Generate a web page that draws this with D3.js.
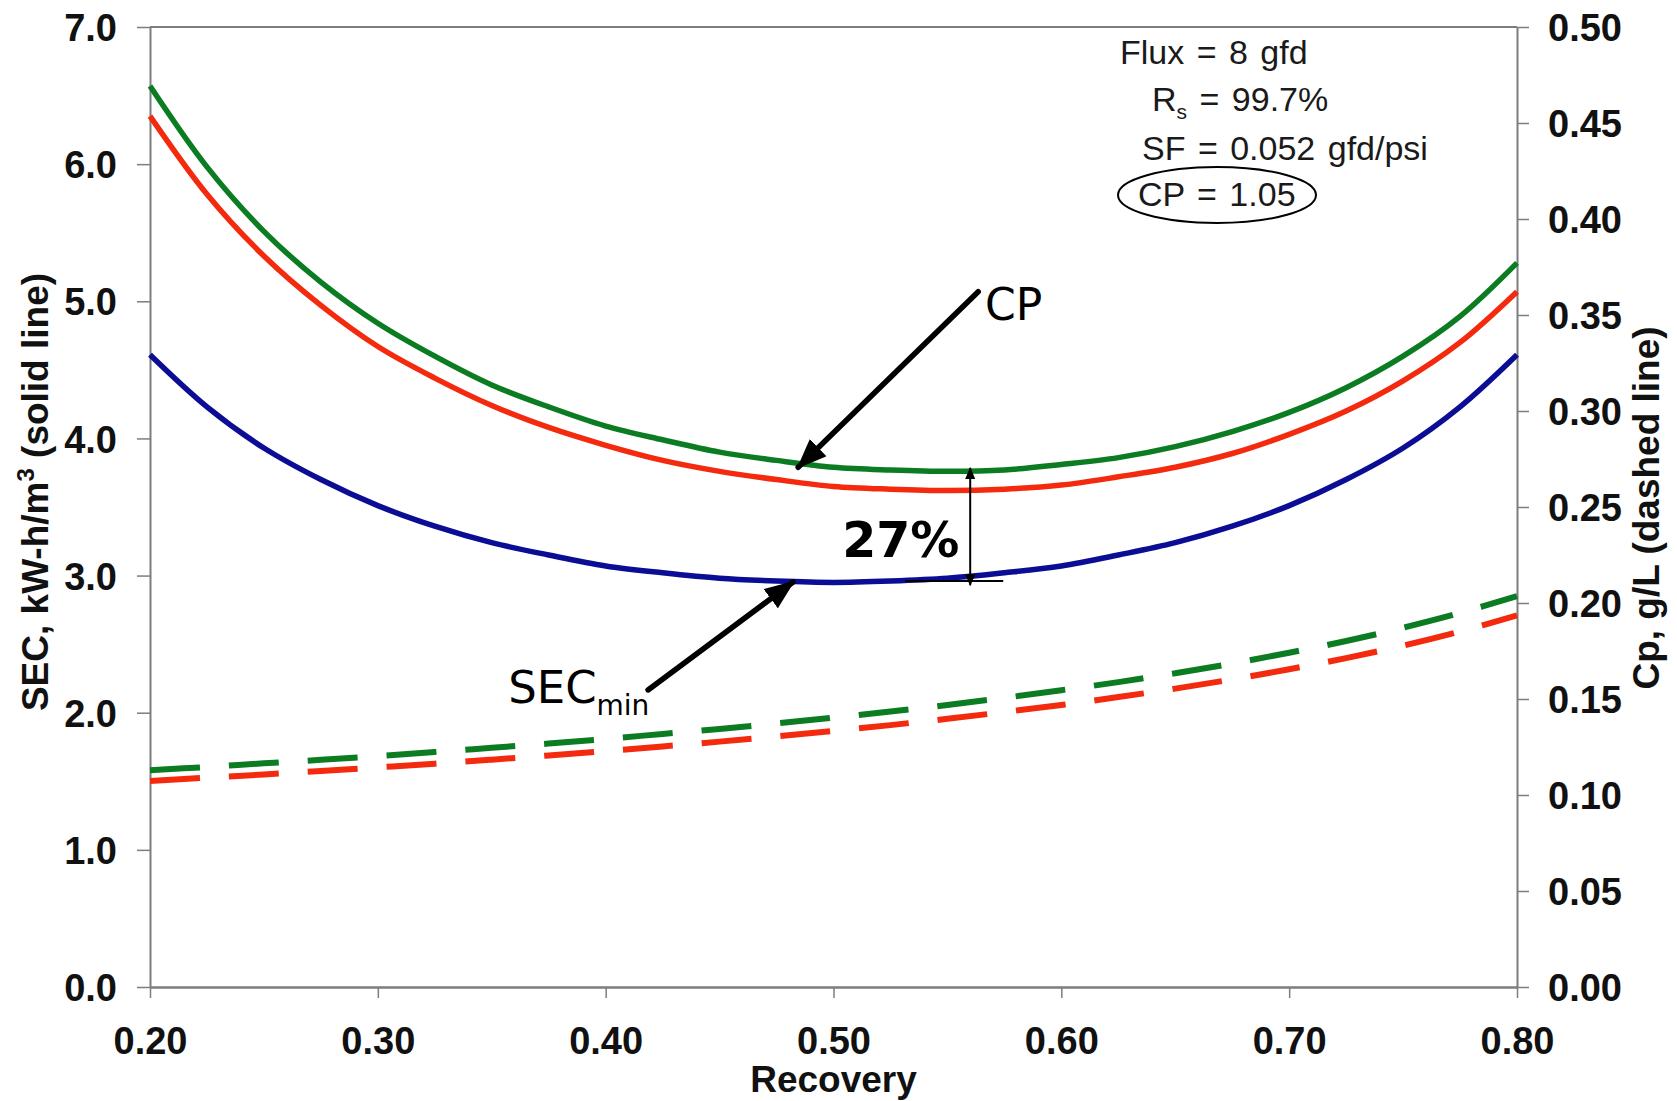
<!DOCTYPE html>
<html>
<head>
<meta charset="utf-8">
<script src="https://cdn.jsdelivr.net/npm/d3@7/dist/d3.min.js"></script>
<style>
  html, body { margin: 0; padding: 0; background: #fff; }
  svg { display: block; }
  .tick text { font-family: "Liberation Sans", Arial, sans-serif; font-weight: bold; font-size: 38px; fill: #111; }
</style>
</head>
<body>
<svg id="chart" width="1677" height="1101"></svg>
<script>
// Recovery (x) sample points
const recovery = [0.200, 0.225, 0.250, 0.275, 0.300, 0.325, 0.350, 0.375, 0.400, 0.425, 0.450, 0.475, 0.500,
                  0.525, 0.550, 0.575, 0.600, 0.625, 0.650, 0.675, 0.700, 0.725, 0.750, 0.775, 0.800];

// Specific energy consumption, kW-h/m3 (solid lines, left axis)
const secGreen = [6.57, 5.98, 5.51, 5.14, 4.84, 4.60, 4.39, 4.23, 4.09, 3.99, 3.90, 3.84, 3.79,
                  3.77, 3.76, 3.77, 3.81, 3.86, 3.94, 4.05, 4.19, 4.37, 4.60, 4.89, 5.28];
const secRed   = [6.35, 5.78, 5.33, 4.97, 4.67, 4.44, 4.24, 4.08, 3.95, 3.84, 3.76, 3.70, 3.65,
                  3.63, 3.62, 3.63, 3.66, 3.72, 3.79, 3.89, 4.03, 4.20, 4.42, 4.70, 5.07];
const secMin   = [4.61, 4.23, 3.93, 3.70, 3.51, 3.36, 3.24, 3.15, 3.07, 3.02, 2.98, 2.96, 2.95,
                  2.96, 2.98, 3.02, 3.07, 3.15, 3.24, 3.36, 3.51, 3.70, 3.93, 4.23, 4.61];

// Permeate concentration Cp, g/L (dashed lines, right axis)
const cpGreen = [0.1129, 0.1146, 0.1165, 0.1183, 0.1203, 0.1224, 0.1246, 0.1268, 0.1292, 0.1318, 0.1344, 0.1373, 0.1403,
                 0.1435, 0.1469, 0.1506, 0.1546, 0.1588, 0.1634, 0.1685, 0.1741, 0.1802, 0.1871, 0.1948, 0.2036];
const cpRed   = [0.1073, 0.1090, 0.1107, 0.1125, 0.1144, 0.1163, 0.1184, 0.1206, 0.1229, 0.1253, 0.1278, 0.1305, 0.1334,
                 0.1364, 0.1397, 0.1432, 0.1469, 0.1510, 0.1554, 0.1602, 0.1655, 0.1713, 0.1778, 0.1852, 0.1935];

// Tick values
const xTicks = [0.20, 0.30, 0.40, 0.50, 0.60, 0.70, 0.80];
const yLeftTicks = [0, 1, 2, 3, 4, 5, 6, 7];
const yRightTicks = [0, 0.05, 0.10, 0.15, 0.20, 0.25, 0.30, 0.35, 0.40, 0.45, 0.50];

// Operating conditions text block
const conditions = [
  { parts: [["Flux = 8 gfd", null]] },
  { parts: [["R", null], ["s", "sub"], [" = 99.7%", null]] },
  { parts: [["SF = 0.052 gfd/psi", null]] },
  { parts: [["CP = 1.05", null]] }
];

const COLORS = { green: "#0c7c22", red: "#f42a0e", blue: "#0b0d94" };
const AXIS_GRAY = "#7d7d7d";

const svg = d3.select("#chart");
const plot = { left: 150, right: 1517, top: 27, bottom: 987 };

const x = d3.scaleLinear().domain([0.2, 0.8]).range([plot.left, plot.right]);
const yL = d3.scaleLinear().domain([0, 7]).range([plot.bottom, plot.top]);
const yR = d3.scaleLinear().domain([0, 0.5]).range([plot.bottom, plot.top]);

// Top frame line
svg.append("line")
  .attr("x1", plot.left).attr("x2", plot.right)
  .attr("y1", plot.top).attr("y2", plot.top)
  .attr("stroke", AXIS_GRAY).attr("stroke-width", 2);

function styleAxis(g) {
  g.select(".domain").attr("stroke", AXIS_GRAY).attr("stroke-width", 2);
  g.selectAll(".tick line").attr("stroke", AXIS_GRAY).attr("stroke-width", 1.5);
}

// Left axis
svg.append("g")
  .attr("transform", `translate(${plot.left},0)`)
  .call(d3.axisLeft(yL).tickValues(yLeftTicks).tickFormat(d3.format(".1f"))
    .tickSize(13).tickSizeOuter(0).tickPadding(20))
  .call(styleAxis)
  .call(g => g.selectAll(".tick text").attr("dy", "0.36em"));

// Right axis
svg.append("g")
  .attr("transform", `translate(${plot.right},0)`)
  .call(d3.axisRight(yR).tickValues(yRightTicks).tickFormat(d3.format(".2f"))
    .tickSize(12).tickSizeOuter(0).tickPadding(19))
  .call(styleAxis)
  .call(g => g.selectAll(".tick text").attr("dy", "0.36em"));

// Bottom axis
svg.append("g")
  .attr("transform", `translate(0,${plot.bottom})`)
  .call(d3.axisBottom(x).tickValues(xTicks).tickFormat(d3.format(".2f"))
    .tickSize(11).tickSizeOuter(0))
  .call(styleAxis)
  .call(g => g.select(".domain").attr("stroke-width", 2.5))
  .call(g => g.selectAll(".tick text").attr("y", 67).attr("dy", 0));

// Axis titles
const titleFont = { family: "Liberation Sans, Arial, sans-serif", size: 37 };

const leftTitle = svg.append("text")
  .attr("transform", `translate(48,492) rotate(-90)`)
  .attr("text-anchor", "middle")
  .attr("font-family", titleFont.family).attr("font-weight", "bold")
  .attr("font-size", titleFont.size).attr("fill", "#111");
leftTitle.append("tspan").text("SEC, kW-h/m");
leftTitle.append("tspan").attr("font-size", 24).attr("dy", -14).text("3");
leftTitle.append("tspan").attr("dy", 14).text(" (solid line)");

svg.append("text")
  .attr("transform", `translate(1659,508) rotate(-90)`)
  .attr("text-anchor", "middle")
  .attr("font-family", titleFont.family).attr("font-weight", "bold")
  .attr("font-size", titleFont.size).attr("fill", "#111")
  .text("Cp, g/L (dashed line)");

svg.append("text")
  .attr("x", (plot.left + plot.right) / 2).attr("y", 1092)
  .attr("text-anchor", "middle")
  .attr("font-family", titleFont.family).attr("font-weight", "bold")
  .attr("font-size", 37).attr("fill", "#111")
  .text("Recovery");

// Curves
const lineL = d3.line().x((d, i) => x(recovery[i])).y(d => yL(d)).curve(d3.curveCatmullRom.alpha(0.5));
const lineR = d3.line().x((d, i) => x(recovery[i])).y(d => yR(d)).curve(d3.curveCatmullRom.alpha(0.5));

const curves = svg.append("g").attr("fill", "none").attr("stroke-linecap", "butt");

curves.append("path").datum(cpRed).attr("d", lineR)
  .attr("stroke", COLORS.red).attr("stroke-width", 6).attr("stroke-dasharray", "50 29");
curves.append("path").datum(cpGreen).attr("d", lineR)
  .attr("stroke", COLORS.green).attr("stroke-width", 6).attr("stroke-dasharray", "50 29");

curves.append("path").datum(secMin).attr("d", lineL)
  .attr("stroke", COLORS.blue).attr("stroke-width", 5.5);
curves.append("path").datum(secRed).attr("d", lineL)
  .attr("stroke", COLORS.red).attr("stroke-width", 5.5);
curves.append("path").datum(secGreen).attr("d", lineL)
  .attr("stroke", COLORS.green).attr("stroke-width", 5.5);

// Arrowhead markers
const defs = svg.append("defs");
defs.append("marker")
  .attr("id", "headBig").attr("markerUnits", "userSpaceOnUse")
  .attr("viewBox", "0 0 30 24").attr("refX", 28).attr("refY", 12)
  .attr("markerWidth", 30).attr("markerHeight", 24).attr("orient", "auto")
  .append("path").attr("d", "M0,0 L30,12 L0,24 Z").attr("fill", "#000");
defs.append("marker")
  .attr("id", "headSmall").attr("markerUnits", "userSpaceOnUse")
  .attr("viewBox", "0 0 12 10").attr("refX", 11).attr("refY", 5)
  .attr("markerWidth", 12).attr("markerHeight", 10).attr("orient", "auto-start-reverse")
  .append("path").attr("d", "M0,0 L12,5 L0,10 Z").attr("fill", "#000");

const ann = svg.append("g");

// CP arrow pointing at the upper curve
ann.append("line")
  .attr("x1", x(0.5635)).attr("y1", yL(5.07))
  .attr("x2", x(0.4845)).attr("y2", yL(3.79))
  .attr("stroke", "#000").attr("stroke-width", 5.5)
  .attr("stroke-linecap", "round")
  .attr("marker-end", "url(#headBig)");
ann.append("text")
  .attr("x", x(0.5665)).attr("y", yL(4.864))
  .attr("font-family", "DejaVu Sans, Verdana, sans-serif")
  .attr("font-size", 44).attr("fill", "#000")
  .text("CP");

// SECmin arrow pointing at the blue curve
ann.append("line")
  .attr("x1", x(0.4186)).attr("y1", yL(2.166))
  .attr("x2", x(0.4823)).attr("y2", yL(2.953))
  .attr("stroke", "#000").attr("stroke-width", 5.5)
  .attr("stroke-linecap", "round")
  .attr("marker-end", "url(#headBig)");
const secLabel = ann.append("text")
  .attr("x", x(0.3572)).attr("y", yL(2.071))
  .attr("font-family", "DejaVu Sans, Verdana, sans-serif")
  .attr("font-size", 45).attr("fill", "#000");
secLabel.append("tspan").text("SEC");
secLabel.append("tspan").attr("font-size", 28).attr("dy", 12).text("min");

// Gap between CP curve and SECmin
ann.append("line")
  .attr("x1", x(0.5314)).attr("x2", x(0.5745))
  .attr("y1", yL(2.96)).attr("y2", yL(2.96))
  .attr("stroke", "#000").attr("stroke-width", 2);
ann.append("line")
  .attr("x1", x(0.56)).attr("x2", x(0.56))
  .attr("y1", yL(2.93)).attr("y2", yL(3.785))
  .attr("stroke", "#000").attr("stroke-width", 2)
  .attr("marker-start", "url(#headSmall)")
  .attr("marker-end", "url(#headSmall)");
ann.append("text")
  .attr("x", x(0.5038)).attr("y", yL(3.135))
  .attr("font-family", "DejaVu Sans, Verdana, sans-serif")
  .attr("font-weight", "bold")
  .attr("font-size", 49).attr("fill", "#000")
  .text("27%");

// Operating conditions
const condX = [1120, 1152, 1142, 1138];
const condY = [64, 111, 160, 206];
const condG = svg.append("g")
  .attr("font-family", "Liberation Sans, Arial, sans-serif")
  .attr("font-size", 34).attr("word-spacing", 3).attr("fill", "#1a1a1a");
conditions.forEach((c, i) => {
  const t = condG.append("text").attr("x", condX[i]).attr("y", condY[i]);
  c.parts.forEach(([s, kind]) => {
    if (kind === "sub") {
      t.append("tspan").attr("font-size", 21).attr("dy", 8).text(s);
    } else {
      const sp = t.append("tspan").text(s);
      if (i === 1 && s.startsWith(" ")) sp.attr("dy", -8);
    }
  });
});
condG.append("ellipse")
  .attr("cx", 1217).attr("cy", 195).attr("rx", 99).attr("ry", 28)
  .attr("fill", "none").attr("stroke", "#000").attr("stroke-width", 2);
</script>
</body>
</html>
